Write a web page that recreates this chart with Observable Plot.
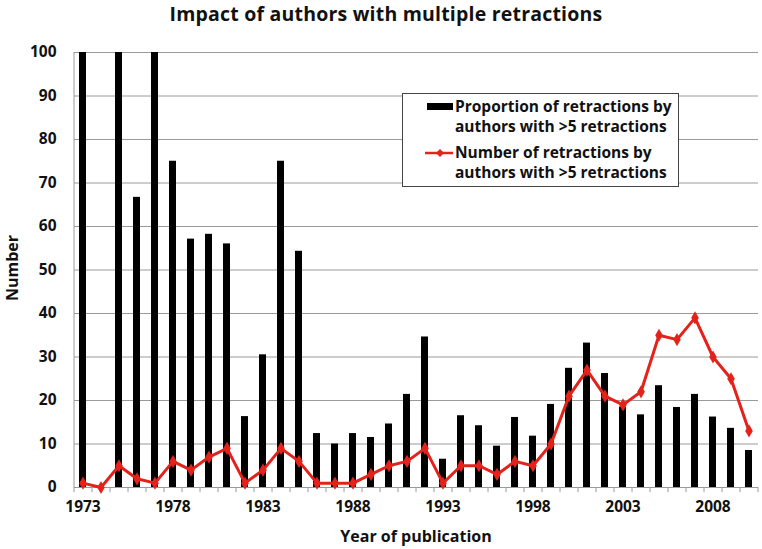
<!DOCTYPE html>
<html><head><meta charset="utf-8">
<script src="https://cdn.jsdelivr.net/npm/d3@7"></script>
<script src="https://cdn.jsdelivr.net/npm/@observablehq/plot@0.6"></script>
<style>
body{margin:0;background:#fff;font-family:"Open Sans",Lato,sans-serif;}
#wrap{position:relative;width:762px;height:549px;overflow:hidden;}
#title{height:30px;line-height:27px;text-align:center;font-weight:bold;font-size:19.5px;padding-left:10px;color:#111;letter-spacing:0.2px;}
#ylab{position:absolute;left:12px;top:268px;transform:translate(-50%,-50%) rotate(-90deg);font-weight:bold;font-size:16px;white-space:nowrap;color:#111;}
#xlab{position:absolute;left:416px;top:536px;transform:translate(-50%,-50%);font-weight:bold;font-size:16px;white-space:nowrap;color:#111;}
#legend{position:absolute;left:402px;top:93px;width:275px;height:92px;border:1.5px solid #444;background:#fff;font-weight:bold;font-size:15.5px;color:#111;}
#legend .t{position:absolute;left:52px;line-height:20px;white-space:nowrap;}
#legend svg{position:absolute;left:0;top:0;}
</style></head><body>
<div id="wrap">
<div id="title">Impact of authors with multiple retractions</div>
<div id="chart"></div>
<div id="ylab">Number</div>
<div id="xlab">Year of publication</div>
<div id="legend">
<svg width="60" height="92"><rect x="24" y="9" width="26" height="7" fill="#000"/><line x1="22" x2="50" y1="59" y2="59" stroke="#e3221c" stroke-width="2.5"/><path d="M37,55 L41,59 L37,63 L33,59 Z" fill="#e3221c"/></svg>
<div class="t" style="top:2px">Proportion of retractions by<br>authors with &gt;5 retractions</div>
<div class="t" style="top:48px">Number of retractions by<br>authors with &gt;5 retractions</div>
</div>
</div>
<script>
const years = [1973,1974,1975,1976,1977,1978,1979,1980,1981,1982,1983,1984,1985,1986,1987,1988,1989,1990,1991,1992,1993,1994,1995,1996,1997,1998,1999,2000,2001,2002,2003,2004,2005,2006,2007,2008,2009,2010];
const proportion = [100,null,100,66.7,100,75,57.1,58.2,56.0,16.3,30.5,75,54.3,12.4,10.0,12.4,11.5,14.6,21.4,34.6,6.5,16.5,14.2,9.5,16.1,11.8,19.1,27.4,33.2,26.2,18.5,16.7,23.4,18.4,21.4,16.2,13.6,8.5];
const counts = [1,0,5,2,1,6,4,7,9,1,4,9,6,1,1,1,3,5,6,9,1,5,5,3,6,5,10,21,27,21,19,22,35,34,39,30,25,13];
const xTickLabels = [1973,1978,1983,1988,1993,1998,2003,2008];
const yTicks = [0,10,20,30,40,50,60,70,80,90,100];

const data = years.map((y,i)=>({year:y, prop:proportion[i], count:counts[i]}));
const W = 762, H = 519, mL = 74, mR = 4, mT = 22, mB = 62;
const step = (W - mL - mR) / years.length;
const grid = "#9a9a9a", red = "#e3221c";

const plot = Plot.plot({
  width: W, height: H, marginLeft: mL, marginRight: mR, marginTop: mT, marginBottom: mB,
  style: {fontFamily: "'Open Sans', Lato, sans-serif", fontSize: "15.5px", fontWeight: "bold", color: "#111", background: "#fff"},
  x: {type: "band", domain: years, paddingInner: 0.6, paddingOuter: 0.3},
  y: {domain: [0, 100]},
  marks: [
    Plot.ruleY(yTicks, {stroke: grid, strokeWidth: 1}),
    Plot.ruleX([years[0]], {y1: 0, y2: 100, stroke: grid, dx: -step/2}),
    Plot.ruleX(years, {y1: 0, y2: -1.2, stroke: grid, dx: -step/2}),
    Plot.ruleX([years[years.length-1]], {y1: 0, y2: -1.2, stroke: grid, dx: step/2}),
    Plot.barY(data.filter(d => d.prop != null), {x: "year", y: "prop", fill: "#000"}),
    Plot.line(data, {x: "year", y: "count", stroke: red, strokeWidth: 3}),
    Plot.dot(data, {x: "year", y: "count", symbol: "diamond", fill: red, r: 4}),
    Plot.axisY({ticks: yTicks, tickSize: 0, tickPadding: 18, label: null}),
    Plot.axisX({ticks: xTickLabels, tickSize: 0, tickPadding: 13, label: null, tickFormat: d => String(d)})
  ]
});
document.getElementById("chart").appendChild(plot);
</script>
</body></html>
